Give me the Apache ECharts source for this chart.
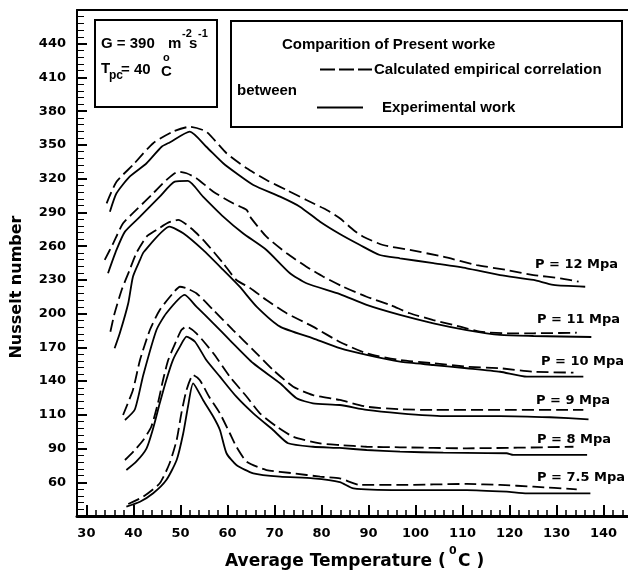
<!DOCTYPE html>
<html>
<head>
<meta charset="utf-8">
<script src="https://cdn.jsdelivr.net/npm/echarts@6/dist/echarts.min.js"></script>
<style>
  html, body { margin: 0; padding: 0; background: #ffffff; }
  #chart { width: 628px; height: 576px; }
</style>
</head>
<body>
<div id="chart"></div>
<script>
// Axis ticks and their printed labels
const xTickValues = [30, 40, 50, 60, 70, 80, 90, 100, 110, 120, 130, 140];
const xTickLabels = ['30', '40', '50', '60', '70', '80', '90', '100', '110', '120', '130', '140'];
const xMinorValues = [28, 30, 32, 34, 36, 38, 40, 42, 44, 46, 48, 50, 52, 54, 56, 58, 60, 62, 64, 66, 68, 70,
  72, 74, 76, 78, 80, 82, 84, 86, 88, 90, 92, 94, 96, 98, 100, 102, 104, 106, 108, 110, 112, 114, 116, 118,
  120, 122, 124, 126, 128, 130, 132, 134, 136, 138, 140, 142, 144];
const yTickValues = [50, 80, 110, 140, 170, 200, 230, 260, 290, 320, 350, 380, 410, 440];
const yTickLabels = ['60', '90', '110', '140', '170', '200', '230', '260', '290', '320', '350', '380', '410', '440'];
const yMinorValues = [];
for (let v = 20; v <= 470; v += 6) yMinorValues.push(v);

// Pressure levels
const pressureLabels = ['P = 12 Mpa', 'P = 11 Mpa', 'P = 10 Mpa', 'P = 9 Mpa', 'P = 8 Mpa', 'P = 7.5 Mpa'];

// Experimental work (solid), [average temperature, Nusselt number]
const exp12 = [[35.0,290.6],[36.4,307.0],[39.2,321.8],[42.8,333.7],[46.0,348.4],[47.8,352.4],[52.0,361.8],[55.5,348.4],[59.1,333.7],[61.9,324.8],[65.5,314.4],[71.2,304.0],[75.4,295.1],[79.7,281.7],[83.9,270.8],[88.2,261.0],[92.4,252.1],[96.7,249.2],[103.8,244.8],[110.9,240.3],[118.0,234.3],[125.1,229.9],[129.3,225.5],[136.1,223.9]];
const exp11 = [[34.6,235.9],[36.4,256.6],[38.2,272.9],[41.4,286.2],[45.6,304.0],[48.8,317.3],[51.6,318.0],[54.8,304.0],[59.1,286.2],[63.3,271.4],[68.3,256.6],[73.3,235.9],[76.8,227.0],[83.9,217.4],[89.6,207.7],[96.7,198.8],[103.8,191.4],[110.9,185.4],[118.0,181.0],[125.1,180.1],[137.4,179.2]];
const exp10 = [[36.0,169.2],[37.1,182.5],[38.9,209.2],[39.9,232.8],[41.4,247.7],[42.2,254.8],[47.7,277.3],[50.6,271.4],[54.8,256.6],[59.1,238.8],[62.6,223.9],[66.2,206.2],[71.2,188.4],[78.2,178.0],[83.9,169.2],[89.6,163.2],[96.7,157.2],[103.8,154.3],[110.9,151.4],[118.0,148.3],[123.7,143.9],[135.7,143.9]];
const exp9 = [[38.2,105.4],[40.3,114.7],[42.1,145.4],[44.9,185.4],[47.0,200.3],[50.9,216.6],[53.4,206.2],[57.0,191.4],[60.5,176.5],[65.5,155.8],[71.2,138.0],[74.7,124.7],[78.2,120.2],[83.9,118.7],[89.6,114.3],[96.7,111.3],[105.9,108.9],[118.0,108.9],[128.6,107.8],[136.8,106.0]];
const exp8 = [[38.5,60.9],[40.6,68.3],[42.8,80.2],[44.2,98.0],[45.6,120.2],[47.0,141.0],[48.4,158.7],[49.9,170.6],[51.3,179.5],[53.1,175.0],[55.5,158.7],[58.4,143.9],[61.9,126.1],[65.5,111.3],[69.7,96.5],[72.9,84.7],[78.2,81.6],[83.9,80.5],[89.6,78.7],[96.7,77.2],[105.9,76.3],[119.4,75.8],[120.8,74.3],[136.5,74.3]];
const exp75 = [[38.5,28.3],[41.4,32.7],[44.2,40.2],[47.0,52.0],[49.2,69.8],[50.6,93.6],[51.6,117.2],[52.7,138.0],[54.8,123.2],[57.0,108.3],[58.4,96.5],[59.8,75.8],[61.9,65.4],[65.5,58.0],[71.2,55.0],[78.2,53.5],[83.9,50.2],[86.8,44.6],[96.7,43.1],[110.9,43.1],[119.4,41.6],[123.7,40.2],[137.2,40.2]];

// Calculated empirical correlation (dashed)
const cor12 = [[34.3,298.1],[36.4,317.3],[39.9,332.2],[44.2,351.5],[48.4,361.8],[52.0,366.2],[55.5,361.8],[59.8,342.6],[64.1,329.2],[68.3,318.8],[72.6,309.9],[76.8,301.0],[81.1,292.2],[83.9,284.8],[86.8,274.4],[88.9,268.4],[93.1,261.0],[98.8,256.6],[105.9,250.6],[113.0,243.2],[119.4,238.8],[125.1,234.3],[130.8,231.4],[134.7,228.4]];
const cor11 = [[33.9,247.7],[35.7,262.5],[37.8,280.3],[40.6,292.2],[44.2,307.0],[47.0,318.8],[49.5,326.2],[51.3,324.8],[53.4,320.4],[57.0,308.4],[61.2,298.1],[64.1,292.2],[64.8,286.2],[68.3,268.4],[72.6,253.6],[76.8,241.7],[80.4,232.8],[84.6,223.9],[89.6,215.0],[94.6,207.7],[98.8,200.3],[103.8,194.3],[109.5,188.4],[113.7,183.9],[119.4,182.5],[125.1,182.5],[134.3,183.0]];
const cor10 = [[35.1,183.9],[36.0,200.3],[37.5,221.0],[39.2,238.8],[40.6,253.6],[42.8,268.4],[44.9,274.4],[47.4,280.9],[49.5,283.3],[52.7,274.4],[55.5,262.5],[59.1,244.8],[61.9,229.9],[64.8,222.8],[68.3,212.1],[72.6,200.3],[78.2,188.4],[83.9,174.8],[89.6,164.7],[96.7,158.7],[103.8,155.8],[110.9,152.8],[118.0,151.4],[125.1,148.3],[133.6,147.5]];
const cor9 = [[37.8,109.8],[39.9,132.1],[41.4,158.7],[43.5,185.4],[45.6,203.2],[48.4,218.1],[49.9,223.9],[51.3,222.5],[53.4,218.1],[57.0,203.2],[61.2,185.4],[65.5,167.6],[69.7,149.9],[74.0,135.0],[78.2,127.6],[83.9,123.2],[89.6,117.2],[96.7,114.9],[103.8,114.3],[118.0,114.3],[135.7,114.3]];
const cor8 = [[38.2,69.8],[40.3,78.7],[42.1,87.6],[43.8,99.4],[45.2,120.2],[46.3,141.0],[47.4,158.7],[49.2,176.5],[50.2,185.4],[51.3,188.4],[53.4,182.5],[57.0,164.7],[60.5,143.9],[64.1,126.1],[66.9,111.3],[70.5,99.4],[74.0,90.5],[79.7,84.6],[83.9,83.1],[89.6,81.6],[96.7,81.1],[110.9,80.2],[133.6,81.6]];
const cor75 = [[38.9,30.7],[42.1,37.2],[45.6,49.1],[47.7,66.9],[49.2,87.6],[50.2,111.3],[51.3,132.1],[52.7,145.4],[54.1,141.0],[56.1,126.1],[58.4,111.3],[60.5,93.6],[61.9,81.6],[64.1,68.3],[68.3,60.9],[74.0,58.0],[79.7,55.0],[83.9,53.5],[88.2,47.6],[96.7,47.6],[110.9,48.5],[118.0,47.6],[125.1,46.1],[134.3,43.7]];

const expSeries = [exp12, exp11, exp10, exp9, exp8, exp75];
const corSeries = [cor12, cor11, cor10, cor9, cor8, cor75];

const INK = '#000000';
const tickFont = { fontFamily: '"DejaVu Sans"', fontWeight: 'bold', fontSize: 13, color: INK };
const boxFont = 'bold 15px "Liberation Sans"';
const smallFont = 'bold 11px "Liberation Sans"';
const labelFont = 'bold 13px "DejaVu Sans"';
const titleFont = 'bold 17px "DejaVu Sans"';

const series = [];
expSeries.forEach((data, i) => {
  series.push({
    name: 'Experimental work ' + pressureLabels[i],
    type: 'line', data: data, showSymbol: false, smooth: 0.2,
    xAxisIndex: 0, yAxisIndex: 0, silent: true,
    lineStyle: { color: INK, width: 1.8, type: 'solid' }
  });
});
corSeries.forEach((data, i) => {
  series.push({
    name: 'Calculated empirical correlation ' + pressureLabels[i],
    type: 'line', data: data, showSymbol: false, smooth: 0.2,
    xAxisIndex: 0, yAxisIndex: 0, silent: true,
    lineStyle: { color: INK, width: 1.8, type: [12, 5] }
  });
});

function txt(text, x, y, font, align) {
  return {
    type: 'text', x: x, y: y, silent: true,
    style: { text: text, font: font, fill: INK, textAlign: align || 'left', textVerticalAlign: 'middle' }
  };
}

// Pressure labels at the right end of each curve pair
const pLabelPos = [[535, 265], [537, 320], [541, 362], [536, 401], [537, 440], [537, 478]];

const graphic = [
  // property box
  { type: 'rect', silent: true, shape: { x: 95, y: 20, width: 122, height: 87 },
    style: { fill: '#ffffff', stroke: INK, lineWidth: 2 } },
  txt('G = 390', 101, 43.5, boxFont),
  txt('m', 168, 43.5, boxFont),
  txt('-2', 182, 34, smallFont),
  txt('s', 189, 43.5, boxFont),
  txt('-1', 198, 34, smallFont),
  txt('T', 101, 69, boxFont),
  txt('pc', 109, 76, 'bold 12px "Liberation Sans"'),
  txt('= 40', 121, 70, boxFont),
  txt('o', 163, 58, smallFont),
  txt('C', 161, 71.5, boxFont),
  // legend box
  { type: 'rect', silent: true, shape: { x: 231, y: 21, width: 391, height: 106 },
    style: { fill: '#ffffff', stroke: INK, lineWidth: 2 } },
  txt('Comparition of Present worke', 282, 45, boxFont),
  { type: 'line', silent: true, shape: { x1: 320, y1: 69.5, x2: 372, y2: 69.5 },
    style: { stroke: INK, lineWidth: 2, lineDash: [15, 4] } },
  txt('Calculated empirical correlation', 374, 70, boxFont),
  txt('between', 237, 91, boxFont),
  { type: 'line', silent: true, shape: { x1: 317, y1: 107.5, x2: 363, y2: 107.5 },
    style: { stroke: INK, lineWidth: 2 } },
  txt('Experimental work', 382, 107.5, boxFont),
  // axis titles
  {
    type: 'text', x: 17, y: 287, rotation: Math.PI / 2, silent: true,
    style: { text: 'Nusselt number', font: 'bold 16px "DejaVu Sans"', fill: INK,
      textAlign: 'center', textVerticalAlign: 'middle' }
  },
  txt('Average Temperature', 225, 562, titleFont),
  txt('(', 438, 562, titleFont),
  txt('0', 449, 551, 'bold 11px "DejaVu Sans"'),
  txt('C )', 458, 562, titleFont)
];
pressureLabels.forEach((t, i) => graphic.push(txt(t, pLabelPos[i][0], pLabelPos[i][1], labelFont)));

const chart = echarts.init(document.getElementById('chart'), null, { renderer: 'canvas' });
chart.setOption({
  animation: false,
  backgroundColor: '#ffffff',
  grid: { left: 77, right: 0, top: 10, bottom: 60, containLabel: false, outerBoundsMode: 'none' },
  xAxis: [
    {
      type: 'value', min: 28, max: 145.2, position: 'bottom',
      axisLine: { onZero: false, lineStyle: { color: INK, width: 3 } },
      axisTick: { inside: true, length: 11, customValues: xTickValues, lineStyle: { color: INK, width: 2 } },
      axisLabel: Object.assign({ customValues: xTickValues, margin: 11,
        formatter: v => xTickLabels[xTickValues.indexOf(v)] }, tickFont),
      splitLine: { show: false }
    },
    {
      type: 'value', min: 28, max: 145.2, position: 'bottom',
      axisLine: { show: false, onZero: false },
      axisTick: { inside: true, length: 6, customValues: xMinorValues, lineStyle: { color: INK, width: 1.5 } },
      axisLabel: { show: false }, splitLine: { show: false }
    },
    {
      type: 'value', min: 28, max: 145.2, position: 'top',
      axisLine: { onZero: false, lineStyle: { color: INK, width: 2 } },
      axisTick: { show: false }, axisLabel: { show: false }, splitLine: { show: false }
    }
  ],
  yAxis: [
    {
      type: 'value', min: 20, max: 470, position: 'left',
      axisLine: { onZero: false, lineStyle: { color: INK, width: 2 } },
      axisTick: { inside: true, length: 10, customValues: yTickValues, lineStyle: { color: INK, width: 2 } },
      axisLabel: Object.assign({ customValues: yTickValues, margin: 11,
        formatter: v => yTickLabels[yTickValues.indexOf(v)] }, tickFont),
      splitLine: { show: false }
    },
    {
      type: 'value', min: 20, max: 470, position: 'left',
      axisLine: { show: false, onZero: false },
      axisTick: { inside: true, length: 7, customValues: yMinorValues, lineStyle: { color: INK, width: 1 } },
      axisLabel: { show: false }, splitLine: { show: false }
    }
  ],
  series: series,
  graphic: graphic
});
</script>
</body>
</html>
